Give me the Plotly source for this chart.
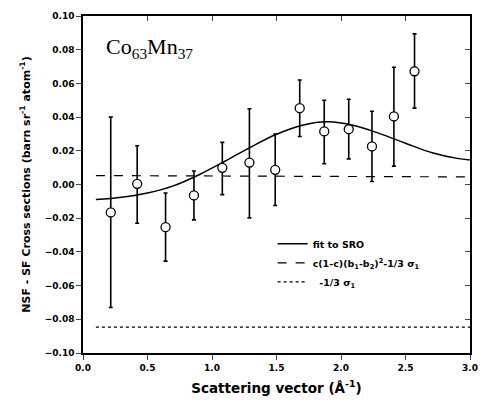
import plotly.graph_objects as go

# Data
q = [0.215, 0.42, 0.64, 0.86, 1.08, 1.29, 1.49, 1.68, 1.87, 2.06, 2.24, 2.41, 2.57]
val = [-0.0166, 0.0004, -0.0253, -0.0065, 0.0099, 0.013, 0.0087, 0.0453, 0.0315, 0.0328, 0.0226, 0.0404, 0.0672]
err_hi = [0.040, 0.023, -0.005, 0.008, 0.025, 0.045, 0.030, 0.062, 0.050, 0.0506, 0.0435, 0.0696, 0.0894]
err_lo = [-0.073, -0.023, -0.0455, -0.021, -0.006, -0.0198, -0.0125, 0.0285, 0.0123, 0.0152, 0.0018, 0.0109, 0.0453]

fit_q = [0.10, 0.30, 0.50, 0.70, 0.90, 1.10, 1.30, 1.50, 1.70, 1.90, 2.10, 2.30, 2.50, 2.70, 2.90, 3.00]
fit_v = [-0.0089, -0.0075, -0.0050, -0.0008, 0.0058, 0.0138, 0.0222, 0.0298, 0.0352, 0.0372, 0.0350, 0.0302, 0.0245, 0.0190, 0.0155, 0.0146]

const_q = [0.10, 3.0]
const_v = [0.0053, 0.0045]
sigma_q = [0.10, 3.0]
sigma_v = [-0.0847, -0.0847]

names = ["fit to SRO",
         "c(1-c)(b<sub>1</sub>-b<sub>2</sub>)<sup>2</sup>-1/3 σ<sub>1</sub>",
         "  -1/3 σ<sub>1</sub>"]

plus = [h - v for h, v in zip(err_hi, val)]
minus = [v - l for v, l in zip(val, err_lo)]

fig = go.Figure()
fig.add_trace(go.Scatter(x=fit_q, y=fit_v, mode="lines", line=dict(color="black", width=1.5, shape="spline"),
                         name=names[0]))
fig.add_trace(go.Scatter(x=const_q, y=const_v, mode="lines", line=dict(color="black", width=1.2, dash="dash"),
                         name=names[1]))
fig.add_trace(go.Scatter(x=sigma_q, y=sigma_v, mode="lines", line=dict(color="black", width=1.2, dash="dot"),
                         name=names[2]))
fig.add_trace(go.Scatter(x=q, y=val, mode="markers",
                         marker=dict(symbol="circle", size=9, color="white", line=dict(color="black", width=1.3)),
                         error_y=dict(type="data", symmetric=False, array=plus, arrayminus=minus,
                                      color="black", thickness=1.6, width=2),
                         showlegend=False))
# invisible trace for the mirrored top/right axes
fig.add_trace(go.Scatter(x=[0], y=[0], xaxis="x2", yaxis="y2", mode="markers",
                         marker=dict(opacity=0), showlegend=False, hoverinfo="skip"))

tickfont = dict(family="DejaVu Sans", size=9, color="black", weight="bold")
fig.update_layout(
    width=481, height=405,
    margin=dict(l=83, r=11, t=16, b=52),
    paper_bgcolor="white", plot_bgcolor="white",
    showlegend=True,
    legend=dict(x=0.49, y=0.367, xanchor="left", yanchor="top", bgcolor="rgba(0,0,0,0)",
                font=dict(family="DejaVu Sans", size=9.5, color="black", weight="bold"),
                tracegroupgap=0, itemwidth=30),
    xaxis=dict(range=[0, 3], dtick=0.5, tickformat=".1f", ticks="outside", ticklen=5, tickwidth=1.2,
               showline=True, linecolor="black", linewidth=1.5, showgrid=False, zeroline=False,
               tickfont=tickfont, automargin=False,
               title=dict(text="Scattering vector (Å<sup>-1</sup>)", standoff=12,
                          font=dict(family="DejaVu Sans", size=13.5, color="black", weight="bold"))),
    yaxis=dict(range=[-0.1, 0.1], dtick=0.02, tickformat=".2f", ticks="outside", ticklen=5, tickwidth=1.2,
               showline=True, linecolor="black", linewidth=1.5, showgrid=False, zeroline=False,
               tickfont=tickfont, automargin=False,
               title=dict(text="NSF - SF Cross sections (barn sr<sup>-1</sup> atom<sup>-1</sup>)", standoff=12,
                          font=dict(family="DejaVu Sans", size=11, color="black", weight="bold"))),
    xaxis2=dict(range=[0, 3], dtick=0.5, overlaying="x", side="top", ticks="inside", ticklen=5,
                tickwidth=1.2, showline=True, linecolor="black", linewidth=1.5, showticklabels=False,
                showgrid=False, zeroline=False, automargin=False),
    yaxis2=dict(range=[-0.1, 0.1], dtick=0.02, overlaying="y", side="right", ticks="inside", ticklen=5,
                tickwidth=1.2, showline=True, linecolor="black", linewidth=1.5, showticklabels=False,
                showgrid=False, zeroline=False, automargin=False),
    annotations=[dict(x=0.055, y=0.905, xref="paper", yref="paper", xanchor="left", yanchor="middle",
                      text="Co<sub>63</sub>Mn<sub>37</sub>", showarrow=False,
                      font=dict(family="Liberation Serif", size=22, color="black"))],
)

fig.write_html("out.html", config={"displayModeBar": False},
               post_script="document.body.style.margin='0';document.body.style.overflow='hidden';")
